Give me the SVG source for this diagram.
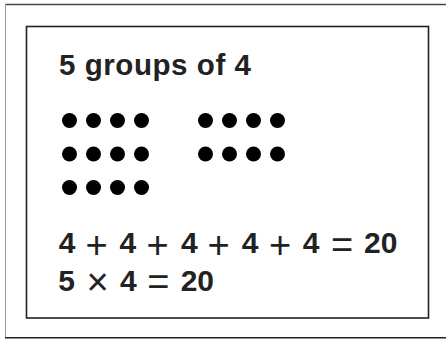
<svg xmlns="http://www.w3.org/2000/svg" width="446" height="339" viewBox="0 0 446 339">
<style>
.t{font-family:"Liberation Sans",Arial,Helvetica,sans-serif;font-weight:bold;fill:#222;}
.op{font-weight:normal;font-size:38px;}
.d{fill:#000;}
</style>
<rect width="446" height="339" fill="#fff"/>
<g id="outer-frame" fill="none">
<line x1="5" y1="4.5" x2="446" y2="4.5" stroke="#444" stroke-width="1.3"/>
<line x1="5.5" y1="4" x2="5.5" y2="338" stroke="#999" stroke-width="1"/>
<line x1="5" y1="337.8" x2="446" y2="337.8" stroke="#222" stroke-width="1.5"/>
</g>
<g id="card">
<rect x="26.5" y="26.5" width="402" height="291.5" fill="none" stroke="#222" stroke-width="1.6"/>
</g>
<g id="title">
<text class="t" x="59" y="74.5" font-size="29.5" textLength="192" lengthAdjust="spacing">5 groups of 4</text>
</g>
<g id="dots">
<g id="group-left">
<circle class="d" cx="69.5" cy="120.5" r="7.5"/><circle class="d" cx="93.5" cy="120.5" r="7.5"/><circle class="d" cx="117.5" cy="120.5" r="7.5"/><circle class="d" cx="141.5" cy="120.5" r="7.5"/>
<circle class="d" cx="69.5" cy="154" r="7.5"/><circle class="d" cx="93.5" cy="154" r="7.5"/><circle class="d" cx="117.5" cy="154" r="7.5"/><circle class="d" cx="141.5" cy="154" r="7.5"/>
<circle class="d" cx="69.5" cy="187.5" r="7.5"/><circle class="d" cx="93.5" cy="187.5" r="7.5"/><circle class="d" cx="117.5" cy="187.5" r="7.5"/><circle class="d" cx="141.5" cy="187.5" r="7.5"/>
</g>
<g id="group-right">
<circle class="d" cx="205.5" cy="120.5" r="7.5"/><circle class="d" cx="229.5" cy="120.5" r="7.5"/><circle class="d" cx="253.5" cy="120.5" r="7.5"/><circle class="d" cx="277.5" cy="120.5" r="7.5"/>
<circle class="d" cx="205.5" cy="154" r="7.5"/><circle class="d" cx="229.5" cy="154" r="7.5"/><circle class="d" cx="253.5" cy="154" r="7.5"/><circle class="d" cx="277.5" cy="154" r="7.5"/>
</g>
</g>
<g id="equations">
<text class="t" font-size="30"><tspan x="58.7" y="253">4</tspan> <tspan class="op" x="85.5" y="257.5">+</tspan> <tspan x="119.4" y="253">4</tspan> <tspan class="op" x="146.5" y="257.5">+</tspan> <tspan x="181.1" y="253">4</tspan> <tspan class="op" x="207.5" y="257.5">+</tspan> <tspan x="241.7" y="253">4</tspan> <tspan class="op" x="269" y="257.5">+</tspan> <tspan x="302.7" y="253">4</tspan> <tspan class="op" x="331" y="257.5">=</tspan> <tspan x="364" y="253">20</tspan></text>
<text class="t" font-size="30"><tspan x="58.3" y="290.5">5</tspan> <tspan class="op" x="86.5" y="295" font-size="40">×</tspan> <tspan x="120.1" y="290.5">4</tspan> <tspan class="op" x="147.2" y="295">=</tspan> <tspan x="180.7" y="290.5">20</tspan></text>
</g>
</svg>
